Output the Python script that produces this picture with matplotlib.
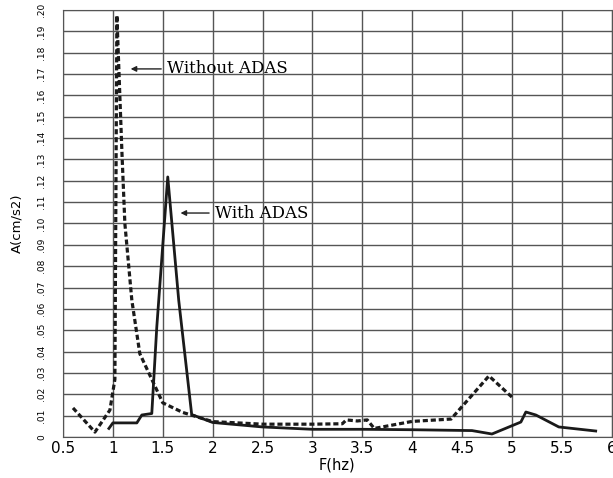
import numpy as np
import matplotlib.pyplot as plt

# spectrum without the absorber
f_without = [0.60, 0.82, 0.97, 1.02, 1.04, 1.09, 1.12, 1.19, 1.27, 1.38, 1.50,
             1.70, 2.00, 2.50, 3.00, 3.30, 3.34, 3.45, 3.55, 3.62, 4.00, 4.39,
             4.77, 5.00]
a_without = [0.0136, 0.0023, 0.0126, 0.027, 0.1975, 0.134, 0.100, 0.064,
             0.039, 0.028, 0.016, 0.0115, 0.0072, 0.0060, 0.0060, 0.0062,
             0.0080, 0.0075, 0.0080, 0.0040, 0.0073, 0.0084, 0.0286, 0.0187]

# spectrum with the absorber
f_with = [0.96, 1.00, 1.24, 1.29, 1.39, 1.44, 1.55, 1.66, 1.79, 2.00, 2.50,
          3.00, 3.50, 4.00, 4.60, 4.80, 5.09, 5.14, 5.24, 5.47, 5.84]
a_with = [0.0040, 0.0066, 0.0066, 0.0103, 0.0110, 0.0515, 0.1218, 0.064,
          0.0105, 0.0068, 0.0047, 0.0036, 0.0036, 0.0034, 0.0030, 0.0014,
          0.0070, 0.0117, 0.0103, 0.0047, 0.0028]

xticks = [0.5, 1, 1.5, 2, 2.5, 3, 3.5, 4, 4.5, 5, 5.5, 6]
xticklabels = ['0.5', '1', '1.5', '2', '2.5', '3', '3.5', '4', '4.5', '5', '5.5', '6']
yticks = np.round(np.arange(0, 0.201, 0.01), 2)
yticklabels = ['0'] + ['.%02d' % round(v * 100) for v in yticks[1:]]

fig = plt.figure(figsize=(6.13, 4.78), dpi=100)
ax = fig.add_axes([0.1028, 0.0858, 0.895, 0.8933])

ax.plot(f_without, a_without, color='#1a1a1a', lw=2.3, linestyle=(0, (1.6, 0.9)))
ax.plot(f_with, a_with, color='#1a1a1a', lw=2.0)

ax.set_xlim(0.5, 6)
ax.set_ylim(0, 0.2)
ax.set_xticks(xticks)
ax.set_xticklabels(xticklabels, fontsize=11)
ax.set_yticks(yticks)
ax.set_yticklabels(yticklabels, fontsize=6.5, rotation=90, va='center')
ax.tick_params(axis='y', length=0, pad=12)
ax.tick_params(axis='x', length=0, pad=3)
ax.grid(True, color='#555555', lw=1.0)
for s in ax.spines.values():
    s.set_color('#555555')

ax.set_xlabel('F(hz)', fontsize=10.5, labelpad=1)
ax.set_ylabel('A(cm/s2)', fontsize=9.5, labelpad=10)

arrow = dict(arrowstyle='-|>', color='#222222', lw=1.0, mutation_scale=8)
ax.annotate('Without ADAS', xy=(1.15, 0.1724), xytext=(1.54, 0.1724),
            fontsize=12, family='DejaVu Serif', va='center', ha='left',
            arrowprops=arrow)
ax.annotate('With ADAS', xy=(1.65, 0.1049), xytext=(2.02, 0.1049),
            fontsize=12, family='DejaVu Serif', va='center', ha='left',
            arrowprops=arrow)

fig.savefig('out.png', dpi=100)
